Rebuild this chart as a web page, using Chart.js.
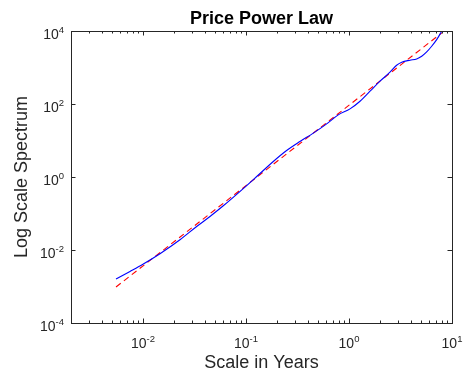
<!DOCTYPE html>
<html>
<head>
<meta charset="utf-8">
<script src="https://cdn.jsdelivr.net/npm/chart.js@4"></script>
<style>
  html, body { margin: 0; padding: 0; background: #fff; }
  #wrap { width: 464px; height: 373px; }
</style>
</head>
<body>
<div id="wrap"><canvas id="chart" width="464" height="373"></canvas></div>
<script>
// spectrum (scale in years, log scale spectrum)
const spectrumX = [0.00547, 0.00748, 0.01007, 0.01462, 0.02286, 0.0332, 0.0447, 0.0602, 0.0977, 0.127,
  0.184, 0.248, 0.334, 0.450, 0.607, 0.787, 1.023, 1.279, 1.600, 2.00, 2.50, 2.90, 3.25, 3.91,
  4.54, 5.08, 5.68, 6.35, 7.10, 7.94];
const spectrumY = [0.00161, 0.00259, 0.00413, 0.00791, 0.0191, 0.0440, 0.0830, 0.163, 0.530, 1.03,
  2.66, 5.31, 9.37, 15.9, 28.6, 50.4, 73.5, 119, 224, 421, 743, 1154, 1395, 1583,
  1717, 2036, 2670, 3820, 5790, 9840];

// power law fit (straight dashed line)
const fitX = [0.00547, 7.94];
const fitY = [0.00097, 8840];

// axis limits and labelled ticks
const xMin = 0.002, xMax = 10;
const yMin = 1e-4, yMax = 1e4;
const xTicks = [0.01, 0.1, 1, 10];
const xTickExp = ['-2', '-1', '0', '1'];
const yTicks = [1e-4, 1e-2, 1, 1e2, 1e4];
const yTickExp = ['-4', '-2', '0', '2', '4'];

const FONT = '"Liberation Sans", Arial, Helvetica, sans-serif';
const INK = '#262626';

function toPoints(xs, ys) {
  return xs.map((v, i) => ({ x: v, y: ys[i] }));
}

// draws "10" with a raised exponent
function drawPow(ctx, exp, x, y, align) {
  ctx.font = '14px ' + FONT;
  const wBase = ctx.measureText('10').width;
  ctx.font = '9.5px ' + FONT;
  const wExp = ctx.measureText(exp).width;
  let start = x;
  if (align === 'center') start = x - (wBase + wExp) / 2;
  if (align === 'right') start = x - (wBase + wExp);
  ctx.textAlign = 'left';
  ctx.textBaseline = 'alphabetic';
  ctx.font = '14px ' + FONT;
  ctx.fillText('10', start, y);
  ctx.font = '9.5px ' + FONT;
  ctx.fillText(exp, start + wBase, y - 6);
}

const matlabAxes = {
  id: 'matlabAxes',
  afterDraw(chart) {
    const { ctx, chartArea: a, scales: { x, y } } = chart;
    ctx.save();
    ctx.strokeStyle = INK;
    ctx.lineWidth = 1;
    ctx.strokeRect(a.left + 0.5, a.top + 0.5, a.right - a.left, a.bottom - a.top);

    // x ticks, major and minor, on bottom and top
    ctx.beginPath();
    for (let d = 0.001; d < xMax; d *= 10) {
      for (let m = 1; m <= 9; m++) {
        const v = m * d;
        if (v <= xMin * 1.0001 || v >= xMax * 0.9999) continue;
        const px = Math.round(x.getPixelForValue(v)) + 0.5;
        const len = m === 1 ? 4.5 : 2.5;
        ctx.moveTo(px, a.bottom);
        ctx.lineTo(px, a.bottom - len);
        ctx.moveTo(px, a.top);
        ctx.lineTo(px, a.top + len);
      }
    }
    // y ticks on left and right
    yTicks.forEach(v => {
      const py = Math.round(y.getPixelForValue(v)) + 0.5;
      ctx.moveTo(a.left, py);
      ctx.lineTo(a.left + 4.5, py);
      ctx.moveTo(a.right, py);
      ctx.lineTo(a.right - 4.5, py);
    });
    ctx.stroke();

    ctx.fillStyle = INK;
    xTicks.forEach((v, i) => {
      drawPow(ctx, xTickExp[i], x.getPixelForValue(v), 348, 'center');
    });
    yTicks.forEach((v, i) => {
      drawPow(ctx, yTickExp[i], 64, y.getPixelForValue(v) + 7.5, 'right');
    });

    const cx = (a.left + a.right) / 2;
    ctx.textAlign = 'center';
    ctx.textBaseline = 'alphabetic';
    ctx.font = 'bold 18px ' + FONT;
    ctx.fillStyle = '#000';
    ctx.fillText('Price Power Law', cx, 24);

    ctx.fillStyle = INK;
    ctx.font = '18px ' + FONT;
    ctx.fillText('Scale in Years', cx, 368);

    ctx.translate(27, (a.top + a.bottom) / 2);
    ctx.rotate(-Math.PI / 2);
    ctx.fillText('Log Scale Spectrum', 0, 0);
    ctx.restore();
  }
};

new Chart(document.getElementById('chart'), {
  type: 'line',
  data: {
    datasets: [
      {
        label: 'Spectrum',
        data: toPoints(spectrumX, spectrumY),
        borderColor: '#0000ff',
        borderWidth: 1.1,
        pointRadius: 0,
        cubicInterpolationMode: 'monotone',
        fill: false,
      },
      {
        label: 'Fit',
        data: toPoints(fitX, fitY),
        borderColor: '#ff0000',
        borderWidth: 1.1,
        borderDash: [6, 4],
        pointRadius: 0,
        fill: false,
      },
    ],
  },
  options: {
    responsive: false,
    animation: false,
    layout: { padding: { left: 71, right: 12, top: 31, bottom: 50 } },
    scales: {
      x: { type: 'logarithmic', min: xMin, max: xMax, display: false },
      y: { type: 'logarithmic', min: yMin, max: yMax, display: false },
    },
    plugins: {
      legend: { display: false },
      tooltip: { enabled: false },
      title: { display: false },
    },
  },
  plugins: [matlabAxes],
});
</script>
</body>
</html>
